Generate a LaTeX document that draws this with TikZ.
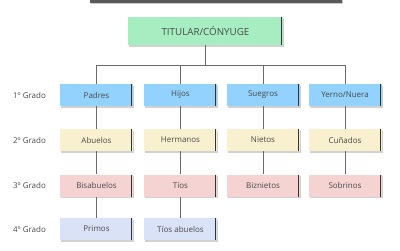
\documentclass[tikz,border=0pt]{standalone}
\usepackage{fontspec}
\setmainfont{Open Sans}
\usetikzlibrary{shadows}
\definecolor{tcol}{HTML}{4A4A4A}
\definecolor{gcol}{HTML}{A6EDC2}
\definecolor{bcol}{HTML}{92D2FC}
\definecolor{ycol}{HTML}{F8F0CE}
\definecolor{pcol}{HTML}{F6D3D3}
\definecolor{lcol}{HTML}{D9E2F6}
\definecolor{lncol}{HTML}{6A6A6A}
\tikzset{
  bx/.style={draw=none, minimum width=73pt, minimum height=22pt, inner sep=0pt,
    text=tcol, font=\fontsize{8}{9.5}\selectfont,
    drop shadow={shadow xshift=1pt, shadow yshift=-1.5pt, opacity=.3, fill=black!60},
    path picture={\draw[black!80, line width=0.8pt]
      ([xshift=-1.2pt]path picture bounding box.north east) --
      ([xshift=-1.2pt]path picture bounding box.south east);}},
  lbl/.style={text=tcol, font=\fontsize{8}{9.5}\selectfont, inner sep=0pt},
  ln/.style={draw=lncol, line width=0.6pt}
}
\begin{document}
\begin{tikzpicture}[x=1pt,y=-1pt]
\useasboundingbox (0,0) rectangle (400,250);
% top cut-off bar
\fill[black!20] (91,0) rectangle (343,3.5);
\fill[black!65] (90,0) rectangle (342,2.5);
% title
\node[bx, fill=gcol, minimum width=155pt, minimum height=28pt, font=\fontsize{9.8}{11}\selectfont] (tit) at (205.5,31) {TITULAR/CÓNYUGE};
% row 1
\node[bx, fill=bcol] (padres) at (96.5,95) {Padres};
\node[bx, fill=bcol] (hijos) at (180.5,95) {Hijos};
\node[bx, fill=bcol] (suegros) at (263,95) {Suegros};
\node[bx, fill=bcol] (yerno) at (345,95) {Yerno/Nuera};
% row 2
\node[bx, fill=ycol] (abuelos) at (96.5,140) {Abuelos};
\node[bx, fill=ycol] (hermanos) at (180.5,140) {Hermanos};
\node[bx, fill=ycol] (nietos) at (263,140) {Nietos};
\node[bx, fill=ycol] (cunados) at (345,140) {Cuñados};
% row 3
\node[bx, fill=pcol] (bisab) at (96.5,185.5) {Bisabuelos};
\node[bx, fill=pcol] (tios) at (180.5,185.5) {Tíos};
\node[bx, fill=pcol] (biznietos) at (263,185.5) {Biznietos};
\node[bx, fill=pcol] (sobrinos) at (345,185.5) {Sobrinos};
% row 4
\node[bx, fill=lcol] (primos) at (96.5,229) {Primos};
\node[bx, fill=lcol] (tiosab) at (180.5,229) {Tíos abuelos};
% grade labels
\node[lbl] (g1) at (29.5,95) {1º Grado};
\node[lbl] (g2) at (29.5,140) {2º Grado};
\node[lbl] (g3) at (29.5,185.5) {3º Grado};
\node[lbl] (g4) at (29.5,229.5) {4º Grado};
% connectors
\coordinate (b1) at (96.5,65);
\coordinate (b4) at (345,65);
\draw[ln] (tit.south) -- (tit.south |- b1);
\draw[ln] (b1) -- (b4);
\draw[ln] (b1) -- (padres.north);
\draw[ln] (hijos.north |- b1) -- (hijos.north);
\draw[ln] (suegros.north |- b1) -- (suegros.north);
\draw[ln] (b4) -- (yerno.north);
\draw[ln] (padres) -- (abuelos);
\draw[ln] (abuelos) -- (bisab);
\draw[ln] (bisab) -- (primos);
\draw[ln] (hijos) -- (hermanos);
\draw[ln] (hermanos) -- (tios);
\draw[ln] (tios) -- (tiosab);
\draw[ln] (suegros) -- (nietos);
\draw[ln] (nietos) -- (biznietos);
\draw[ln] (yerno) -- (cunados);
\draw[ln] (cunados) -- (sobrinos);
\end{tikzpicture}
\end{document}
